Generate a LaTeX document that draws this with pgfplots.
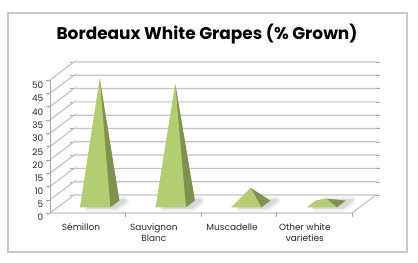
\documentclass[border=0pt]{standalone}
\usepackage{pgfplots}
\pgfplotsset{compat=1.18}
\usepackage{fontspec}
\setmainfont{Poppins}
\usetikzlibrary{calc}
\definecolor{lightg}{RGB}{181,204,114}
\definecolor{midg}{RGB}{155,178,95}
\definecolor{darkg}{RGB}{126,146,78}
\definecolor{gridc}{RGB}{196,196,196}
\definecolor{framec}{RGB}{200,200,200}
% #1 left x, #2 right x, #3 centre x, #4 value
\newcommand\pyr[4]{%
  \addplot3[fill=gray!12, draw=gray!12, line width=8bp, line join=round, xshift=6bp, forget plot] coordinates {(#1,0.3125,0) (#2,0.3125,0) (#2,0.6875,0) (#1,0.6875,0)};
  \addplot3[fill=gray!30, draw=gray!30, line width=3bp, line join=round, xshift=6bp, forget plot] coordinates {(#1,0.3125,0) (#2,0.3125,0) (#2,0.6875,0) (#1,0.6875,0)};
  \addplot3[fill=midg, draw=none, forget plot] coordinates {(#1,0.6875,0) (#2,0.6875,0) (#3,0.5,#4)};
  \addplot3[fill=lightg, draw=none, forget plot] coordinates {(#1,0.3125,0) (#1,0.6875,0) (#3,0.5,#4)};
  \addplot3[fill=darkg, draw=none, forget plot] coordinates {(#2,0.3125,0) (#2,0.6875,0) (#3,0.5,#4)};
  \addplot3[fill=lightg, draw=none, forget plot] coordinates {(#1,0.3125,0) (#2,0.3125,0) (#3,0.5,#4)};
}
\begin{document}
\begin{tikzpicture}
\begin{axis}[
  x={(75.5bp,0bp)}, y={(24bp,18bp)}, z={(0bp,2.66bp)},
  xmin=0.5, xmax=4.5, ymin=0, ymax=1, zmin=0, zmax=50,
  clip=false,
  axis line style={draw=none},
  grid=none,
  ytick=\empty,
  ztick={0,5,...,50},
  xtick={1,2,3,4},
  xticklabels={Sémillon, {Sauvignon\\Blanc}, Muscadelle, {Other white\\varieties}},
  xticklabel style={align=center, font=\fontsize{9}{11}\selectfont, text=black!85, yshift=-5bp},
  zticklabel style={font=\fontsize{9}{11}\selectfont, text=black!85},
  tick style={draw=gray!70},
  xtick style={draw=none},
  major tick length=4bp,
  tick align=outside,
  /pgf/number format/assume math mode=true,
]
\pgfplotsinvokeforeach{0,5,...,50}{
  \addplot3[gridc, line width=1.2bp, forget plot] coordinates {(0.5,0,#1) (0.5,1,#1) (4.5,1,#1)};
}
\addplot3[gridc, line width=1.2bp, forget plot] coordinates {(0.5,0,0) (4.5,0,0) (4.5,1,0)};
\addplot3[gray!70, line width=0.6bp, forget plot] coordinates {(0.5,0,0) (0.5,0,50)};
\pgfplotsinvokeforeach{1.5,2.5,3.5,4.5}{
  \addplot3[gray!70, line width=0.6bp, forget plot] coordinates {(#1,0,0) (#1,0,-1.5)};
}
\pyr{0.8}{1.2}{1}{47}
\pyr{1.8}{2.2}{2}{45}
\pyr{2.8}{3.2}{3}{6}
\pyr{3.8}{4.2}{4}{2}
\coordinate (F) at (axis cs:0.5,0,0);
\end{axis}
\draw[framec, line width=1.5bp] ($(F)+(-42bp,-39bp)$) rectangle ($(F)+(357bp,200bp)$);
\node[anchor=base, font=\fontsize{17}{19}\selectfont\bfseries] at ($(F)+(157bp,173bp)$) {Bordeaux White Grapes (\% Grown)};
\useasboundingbox ($(F)+(-50bp,-50bp)$) rectangle ($(F)+(368bp,213bp)$);
\end{tikzpicture}
\end{document}
